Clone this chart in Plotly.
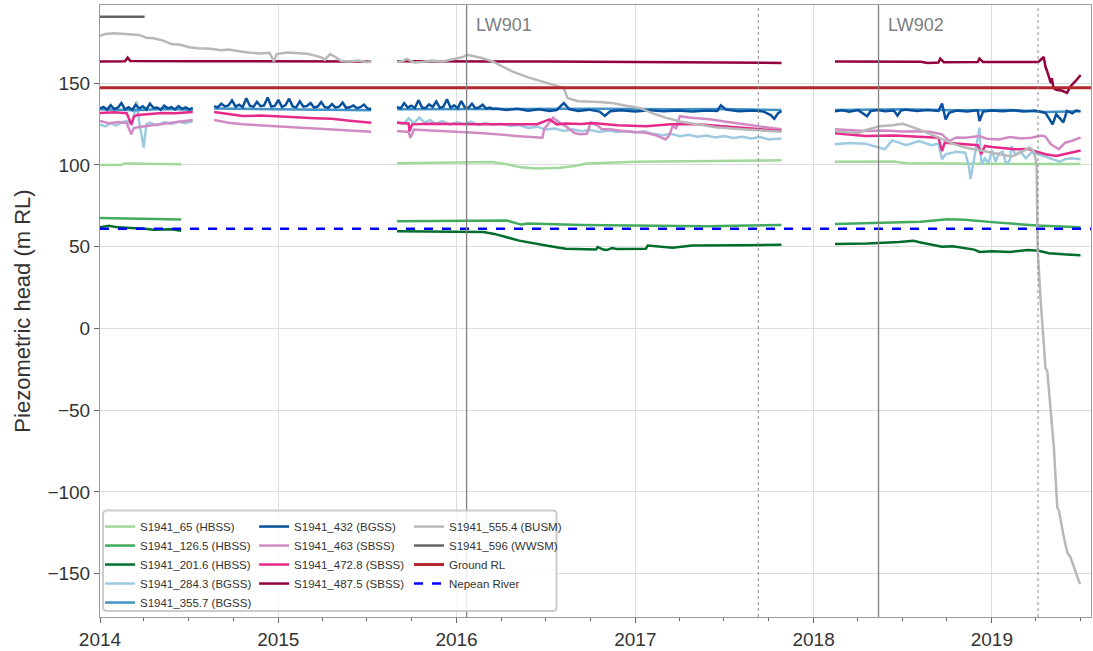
import pandas as pd
import plotly.graph_objects as go

# ---------------- data (decimal year, value) ; None = data gap ----------------
X_START, X_END = 2014.0, 2019.555
Y_RANGE = [-176.5, 197.8]
LW_YEARS = [2016.055, 2018.364]
LW_LABELS = ["LW901", "LW902"]
DOTTED_YEARS = [2017.69, 2019.258]
GROUND_RL = 147.2
NEPEAN_RIVER = 61.0

s65 = [(2014.00, 100.0), (2014.12, 100.1), (2014.14, 100.9), (2014.30, 100.6), (2014.455, 100.4), None,
       (2015.665, 101.0), (2015.9, 101.4), (2016.1, 102.0), (2016.2, 101.8), (2016.28, 100.4), (2016.36, 98.5),
       (2016.45, 97.8), (2016.58, 98.3), (2016.66, 99.3), (2016.73, 100.8), (2017.0, 101.9), (2017.3, 102.2),
       (2017.6, 102.6), (2017.82, 102.8), None,
       (2018.12, 102.0), (2018.45, 102.1), (2018.52, 101.0), (2018.8, 100.7), (2019.2, 100.5), (2019.496, 100.6)]

s126_5 = [(2014.00, 67.5), (2014.2, 67.2), (2014.455, 66.6), None,
          (2015.665, 65.6), (2016.1, 66.2), (2016.28, 66.0), (2016.36, 63.5), (2016.40, 64.2), (2016.7, 63.3),
          (2017.0, 62.9), (2017.4, 62.5), (2017.82, 63.3), None,
          (2018.12, 63.9), (2018.4, 64.6), (2018.6, 65.2), (2018.75, 66.8), (2018.85, 66.5), (2019.0, 65.0),
          (2019.25, 63.0), (2019.496, 61.9)]

s201_6 = [(2014.00, 61.9), (2014.05, 62.8), (2014.10, 61.8), (2014.15, 61.6), (2014.20, 61.5), (2014.25, 61.0),
          (2014.30, 60.3), (2014.35, 60.6), (2014.40, 60.7), (2014.455, 59.8), None,
          (2015.665, 59.5), (2016.0, 59.2), (2016.15, 59.0), (2016.21, 57.8), (2016.35, 53.7), (2016.5, 50.7),
          (2016.61, 48.7), (2016.78, 48.3), (2016.79, 49.8), (2016.82, 48.2), (2016.84, 47.9), (2016.87, 49.2),
          (2016.9, 48.5), (2017.06, 48.7), (2017.07, 50.7), (2017.21, 49.3), (2017.32, 50.7), (2017.6, 50.9),
          (2017.82, 51.1), None,
          (2018.12, 51.7), (2018.3, 52.0), (2018.48, 52.8), (2018.56, 53.6), (2018.6, 52.6), (2018.68, 51.0),
          (2018.72, 49.9), (2018.78, 50.3), (2018.85, 49.3), (2018.9, 48.2), (2018.93, 46.8), (2019.0, 47.2),
          (2019.1, 46.8), (2019.2, 47.9), (2019.26, 47.5), (2019.32, 46.0), (2019.4, 45.3), (2019.496, 44.7)]

s284_3 = [(2014.00, 124.8), (2014.03, 123.5), (2014.06, 125.5), (2014.09, 124.0), (2014.12, 126.0),
          (2014.15, 127.0), (2014.18, 124.5), (2014.205, 139.0), (2014.22, 126.0), (2014.245, 110.6),
          (2014.26, 124.8), (2014.28, 125.8), (2014.32, 124.2), (2014.36, 126.2), (2014.40, 125.0),
          (2014.44, 126.5), (2014.48, 125.5), (2014.52, 126.8), None,
          (2015.665, 126.5), (2015.70, 125.0), (2015.73, 128.5), (2015.76, 125.5), (2015.79, 129.0),
          (2015.82, 125.8), (2015.85, 127.5), (2015.88, 125.0), (2015.92, 126.8), (2015.96, 124.6),
          (2016.0, 126.2), (2016.04, 125.0), (2016.08, 126.5), (2016.12, 124.4), (2016.16, 125.6),
          (2016.2, 124.6), (2016.25, 125.2), (2016.3, 123.8), (2016.35, 124.4), (2016.4, 122.6),
          (2016.45, 123.4), (2016.5, 121.6), (2016.55, 122.2), (2016.6, 120.8), (2016.65, 121.8),
          (2016.7, 120.6), (2016.75, 121.4), (2016.8, 120.2), (2016.85, 121.0), (2016.9, 120.2),
          (2016.95, 120.8), (2017.0, 119.8), (2017.05, 120.6), (2017.1, 119.0), (2017.15, 118.2),
          (2017.2, 119.0), (2017.25, 117.6), (2017.3, 118.4), (2017.35, 117.2), (2017.4, 118.0),
          (2017.45, 116.8), (2017.5, 117.6), (2017.55, 116.4), (2017.6, 117.2), (2017.65, 116.2),
          (2017.7, 117.0), (2017.75, 115.6), (2017.82, 116.2), None,
          (2018.12, 112.6), (2018.2, 113.4), (2018.29, 113.0), (2018.40, 109.6), (2018.44, 115.0),
          (2018.52, 112.0), (2018.59, 114.6), (2018.66, 112.0), (2018.70, 113.0), (2018.72, 103.5),
          (2018.74, 106.5), (2018.80, 108.0), (2018.85, 107.5), (2018.87, 99.4), (2018.88, 91.3),
          (2018.90, 103.0), (2018.93, 122.8), (2018.94, 100.4), (2018.96, 104.0), (2018.98, 101.0),
          (2019.0, 109.0), (2019.02, 102.0), (2019.04, 107.0), (2019.06, 108.0), (2019.08, 100.4),
          (2019.10, 103.0), (2019.11, 111.6), (2019.13, 106.5), (2019.16, 108.0), (2019.19, 104.0),
          (2019.22, 107.5), (2019.26, 106.5), (2019.30, 105.0), (2019.34, 103.5), (2019.38, 102.0),
          (2019.41, 103.5), (2019.45, 104.0), (2019.497, 103.5)]

s355_7 = [(2014.00, 134.0), (2014.2, 133.5), (2014.35, 134.2), (2014.52, 133.8), None,
          (2014.64, 134.5), (2015.0, 134.2), (2015.3, 133.8), (2015.52, 133.5), None,
          (2015.665, 134.0), (2016.0, 134.2), (2016.5, 134.4), (2016.8, 134.3), (2017.2, 134.0),
          (2017.5, 134.2), (2017.82, 133.6), None,
          (2018.12, 133.6), (2018.5, 134.0), (2018.8, 133.4), (2019.1, 133.6), (2019.3, 132.4),
          (2019.496, 132.8)]

s432 = [(2014.00, 134.5), (2014.02, 135.5), (2014.04, 133.8), (2014.06, 136.5), (2014.08, 134.2),
        (2014.10, 135.0), (2014.12, 137.8), (2014.14, 134.0), (2014.16, 135.2), (2014.18, 133.6),
        (2014.20, 136.8), (2014.22, 134.5), (2014.24, 135.8), (2014.26, 133.9), (2014.28, 137.5),
        (2014.30, 134.8), (2014.32, 135.1), (2014.34, 133.7), (2014.36, 136.2), (2014.38, 134.6),
        (2014.40, 135.4), (2014.42, 133.9), (2014.44, 136.0), (2014.46, 134.3), (2014.48, 135.2),
        (2014.50, 134.0), (2014.52, 134.8), None,
        (2014.64, 136.0), (2014.66, 135.2), (2014.68, 137.5), (2014.70, 135.8), (2014.72, 136.4),
        (2014.74, 139.5), (2014.76, 135.6), (2014.78, 136.8), (2014.80, 135.3), (2014.82, 140.8),
        (2014.84, 136.2), (2014.86, 135.5), (2014.88, 138.6), (2014.90, 135.9), (2014.92, 136.4),
        (2014.94, 141.2), (2014.96, 135.7), (2014.98, 136.1), (2015.00, 139.8), (2015.02, 135.4),
        (2015.04, 136.6), (2015.06, 140.5), (2015.08, 135.8), (2015.10, 135.2), (2015.12, 138.9),
        (2015.14, 135.6), (2015.16, 136.0), (2015.18, 137.8), (2015.20, 135.1), (2015.22, 135.7),
        (2015.24, 138.4), (2015.26, 135.3), (2015.28, 134.9), (2015.30, 137.2), (2015.32, 135.0),
        (2015.34, 135.6), (2015.36, 138.1), (2015.38, 134.8), (2015.40, 135.2), (2015.42, 136.4),
        (2015.44, 134.7), (2015.46, 135.3), (2015.48, 136.9), (2015.50, 134.5), (2015.52, 134.2), None,
        (2015.665, 135.5), (2015.685, 134.6), (2015.705, 137.8), (2015.725, 135.0), (2015.745, 136.2),
        (2015.765, 134.8), (2015.785, 139.6), (2015.805, 135.2), (2015.825, 134.7), (2015.845, 137.0),
        (2015.865, 135.4), (2015.885, 138.8), (2015.905, 134.9), (2015.925, 135.6), (2015.945, 140.2),
        (2015.965, 135.0), (2015.985, 136.4), (2016.005, 134.6), (2016.025, 139.0), (2016.045, 135.2),
        (2016.065, 134.8), (2016.085, 137.4), (2016.105, 134.6), (2016.125, 135.2), (2016.145, 136.8),
        (2016.165, 134.4), (2016.185, 135.0), (2016.205, 134.2),
        (2016.22, 134.5), (2016.28, 133.6), (2016.34, 134.4), (2016.40, 133.2), (2016.46, 134.0),
        (2016.52, 133.0), (2016.56, 133.6), (2016.60, 137.8), (2016.63, 134.2), (2016.68, 133.0),
        (2016.74, 133.8), (2016.80, 132.6), (2016.83, 130.0), (2016.86, 132.8), (2016.92, 133.4),
        (2017.0, 132.6), (2017.08, 133.4), (2017.16, 132.8), (2017.24, 133.2), (2017.32, 132.6),
        (2017.40, 133.2), (2017.46, 133.0), (2017.48, 136.4), (2017.51, 133.8), (2017.58, 132.8),
        (2017.66, 133.2), (2017.72, 132.6), (2017.76, 130.5), (2017.78, 128.2), (2017.80, 131.5),
        (2017.82, 133.0), None,
        (2018.12, 132.8), (2018.16, 133.4), (2018.20, 132.6), (2018.25, 133.5), (2018.30, 129.8),
        (2018.32, 133.0), (2018.36, 133.6), (2018.40, 132.8), (2018.45, 133.2), (2018.47, 130.2),
        (2018.49, 133.2), (2018.52, 133.8), (2018.58, 133.0), (2018.64, 133.6), (2018.70, 133.0),
        (2018.72, 137.6), (2018.74, 127.8), (2018.76, 131.8), (2018.80, 133.2), (2018.86, 132.6),
        (2018.92, 133.4), (2018.93, 126.8), (2018.95, 132.6), (2019.0, 133.2), (2019.06, 132.8),
        (2019.12, 133.4), (2019.18, 132.6), (2019.24, 133.2), (2019.30, 131.8), (2019.34, 124.8),
        (2019.36, 131.0), (2019.40, 126.0), (2019.42, 133.0), (2019.45, 131.5), (2019.47, 133.2),
        (2019.496, 132.8)]

s463 = [(2014.00, 126.8), (2014.05, 125.5), (2014.10, 126.2), (2014.15, 125.6), (2014.175, 118.7),
        (2014.19, 122.5), (2014.22, 123.2), (2014.28, 124.0), (2014.35, 125.2), (2014.42, 126.0),
        (2014.48, 126.6), (2014.52, 127.5), None,
        (2014.64, 127.5), (2014.72, 125.8), (2014.80, 124.8), (2014.90, 124.2), (2015.0, 123.2),
        (2015.1, 122.8), (2015.2, 122.0), (2015.3, 121.7), (2015.4, 121.0), (2015.52, 120.3), None,
        (2015.665, 120.8), (2015.73, 120.2), (2015.74, 116.6), (2015.76, 121.6), (2015.85, 121.0),
        (2015.94, 120.7), (2016.05, 120.0), (2016.15, 119.4), (2016.22, 118.7), (2016.35, 117.6),
        (2016.48, 116.6), (2016.49, 122.0), (2016.54, 128.8), (2016.58, 125.5), (2016.61, 123.7),
        (2016.66, 119.5), (2016.69, 118.7), (2016.73, 119.0), (2016.75, 125.8), (2016.79, 124.0),
        (2016.81, 122.0), (2016.87, 121.7), (2016.95, 120.5), (2017.06, 119.7), (2017.12, 118.0),
        (2017.17, 115.6), (2017.19, 118.0), (2017.21, 123.7), (2017.23, 122.5), (2017.25, 129.8),
        (2017.30, 129.0), (2017.36, 128.4), (2017.43, 127.8), (2017.5, 126.5), (2017.62, 124.8),
        (2017.72, 123.0), (2017.82, 121.8), None,
        (2018.12, 121.8), (2018.2, 121.2), (2018.29, 120.7), (2018.4, 121.0), (2018.5, 120.4),
        (2018.6, 120.6), (2018.66, 120.1), (2018.72, 118.7), (2018.76, 114.6), (2018.80, 116.8),
        (2018.85, 116.6), (2018.93, 117.6), (2018.97, 116.0), (2019.04, 115.6), (2019.1, 117.0),
        (2019.16, 116.2), (2019.22, 116.6), (2019.28, 118.0), (2019.30, 117.2), (2019.33, 112.6),
        (2019.375, 109.6), (2019.41, 113.6), (2019.45, 114.8), (2019.497, 116.8)]

s472_8 = [(2014.00, 131.8), (2014.08, 132.2), (2014.15, 131.6), (2014.165, 128.0), (2014.175, 124.8),
          (2014.19, 129.5), (2014.21, 130.6), (2014.28, 131.2), (2014.35, 131.8), (2014.42, 131.6),
          (2014.52, 132.4), None,
          (2014.64, 132.3), (2014.72, 131.0), (2014.80, 129.9), (2014.9, 130.2), (2015.0, 129.5),
          (2015.1, 129.2), (2015.2, 128.6), (2015.3, 128.2), (2015.4, 127.0), (2015.52, 125.8), None,
          (2015.665, 125.8), (2015.73, 125.4), (2015.735, 120.7), (2015.75, 124.8), (2015.85, 125.2),
          (2015.95, 124.9), (2016.1, 124.8), (2016.25, 124.8), (2016.45, 124.9), (2016.52, 127.8),
          (2016.56, 124.8), (2016.61, 125.3), (2016.7, 125.0), (2016.76, 125.7), (2016.9, 124.2),
          (2017.06, 123.7), (2017.2, 124.8), (2017.35, 124.8), (2017.5, 123.6), (2017.62, 122.7),
          (2017.82, 120.8), None,
          (2018.12, 119.3), (2018.29, 117.7), (2018.45, 118.0), (2018.55, 117.6), (2018.70, 116.6),
          (2018.72, 108.5), (2018.735, 113.6), (2018.85, 112.6), (2018.92, 112.0), (2018.94, 106.5),
          (2018.96, 111.6), (2019.0, 111.0), (2019.13, 109.6), (2019.2, 109.8), (2019.30, 106.5),
          (2019.36, 105.5), (2019.42, 106.8), (2019.497, 108.8)]

s487_5 = [(2014.00, 163.3), (2014.14, 163.4), (2014.155, 165.6), (2014.17, 163.6), (2014.5, 163.4),
          (2014.9, 163.5), (2015.2, 163.2), (2015.52, 163.3), None,
          (2015.665, 163.4), (2016.0, 163.5), (2016.5, 163.2), (2017.0, 163.0), (2017.3, 162.8),
          (2017.6, 162.6), (2017.82, 162.4), None,
          (2018.12, 163.2), (2018.6, 163.1), (2018.64, 162.4), (2018.70, 162.6), (2018.71, 165.0),
          (2018.73, 162.8), (2018.92, 162.9), (2018.93, 165.0), (2018.95, 162.9), (2019.26, 163.0),
          (2019.29, 166.0), (2019.30, 160.0), (2019.31, 157.0), (2019.33, 150.0), (2019.335, 153.0),
          (2019.345, 147.0), (2019.36, 146.0), (2019.39, 145.5), (2019.42, 144.0), (2019.44, 148.0),
          (2019.47, 151.5), (2019.497, 155.0)]

s555_4 = [(2014.00, 179.0), (2014.03, 180.0), (2014.08, 180.5), (2014.15, 180.0), (2014.22, 179.5),
          (2014.26, 177.8), (2014.30, 177.5), (2014.35, 176.2), (2014.40, 174.0), (2014.45, 173.5),
          (2014.50, 172.0), (2014.55, 171.4), (2014.62, 171.0), (2014.68, 170.2), (2014.72, 170.6),
          (2014.78, 169.5), (2014.84, 168.6), (2014.90, 168.2), (2014.95, 168.6), (2014.975, 163.3),
          (2014.99, 167.8), (2015.05, 168.8), (2015.10, 168.4), (2015.16, 168.0), (2015.20, 167.0),
          (2015.24, 165.8), (2015.26, 164.3), (2015.29, 167.8), (2015.32, 166.0), (2015.35, 163.7),
          (2015.40, 163.2), (2015.45, 163.8), (2015.50, 162.8), (2015.52, 163.4), None,
          (2015.665, 163.0), (2015.70, 163.6), (2015.72, 164.8), (2015.76, 162.7), (2015.80, 163.0),
          (2015.86, 163.8), (2015.92, 163.3), (2015.97, 164.5), (2016.03, 165.8), (2016.06, 167.4),
          (2016.10, 166.5), (2016.14, 165.4), (2016.20, 163.3), (2016.31, 157.2), (2016.40, 153.5),
          (2016.50, 150.2), (2016.55, 149.0), (2016.60, 147.1), (2016.62, 141.0), (2016.68, 139.0),
          (2016.80, 138.5), (2016.87, 137.8), (2016.95, 136.2), (2017.02, 135.0), (2017.10, 131.5),
          (2017.17, 128.9), (2017.25, 126.5), (2017.34, 124.8), (2017.45, 123.0), (2017.62, 121.7),
          (2017.72, 121.0), (2017.82, 120.3), None,
          (2018.12, 120.7), (2018.18, 120.0), (2018.255, 119.7), (2018.30, 121.5), (2018.37, 123.7),
          (2018.44, 124.2), (2018.50, 125.2), (2018.55, 123.5), (2018.59, 121.7), (2018.65, 119.0),
          (2018.72, 115.6), (2018.78, 113.0), (2018.85, 110.6), (2018.95, 108.5), (2019.04, 106.5),
          (2019.11, 105.1), (2019.16, 107.5), (2019.21, 110.6), (2019.235, 108.5), (2019.25, 100.0),
          (2019.256, 48.7), (2019.272, 18.3), (2019.30, -24.3), (2019.31, -26.2), (2019.328, -48.7),
          (2019.347, -73.0), (2019.366, -109.6), (2019.375, -111.4), (2019.403, -127.8),
          (2019.422, -137.0), (2019.44, -140.0), (2019.493, -156.4)]

s596 = [(2014.00, 190.6), (2014.12, 190.6), (2014.25, 190.6)]

SERIES = [
    ("S1941_65 (HBSS)", s65, "#a1d99b", "legend"),
    ("S1941_126.5 (HBSS)", s126_5, "#41ab5d", "legend"),
    ("S1941_201.6 (HBSS)", s201_6, "#006d2c", "legend"),
    ("S1941_284.3 (BGSS)", s284_3, "#9ecae1", "legend"),
    ("S1941_355.7 (BGSS)", s355_7, "#4292c6", "legend"),
    ("S1941_432 (BGSS)", s432, "#08519c", "legend2"),
    ("S1941_463 (SBSS)", s463, "#d08bc4", "legend2"),
    ("S1941_472.8 (SBSS)", s472_8, "#e7298a", "legend2"),
    ("S1941_487.5 (SBSS)", s487_5, "#91003f", "legend2"),
    ("S1941_555.4 (BUSM)", s555_4, "#b8b8b8", "legend3"),
    ("S1941_596 (WWSM)", s596, "#636363", "legend3"),
]


def to_date(t):
    ts = pd.Timestamp("2014-01-01") + pd.to_timedelta((t - 2014.0) * 365.25, unit="D")
    return ts.strftime("%Y-%m-%d %H:%M")


def unzip(pairs):
    xs, ys = [], []
    for p in pairs:
        if p is None:
            xs.append(None)
            ys.append(None)
        else:
            xs.append(to_date(p[0]))
            ys.append(p[1])
    return xs, ys


fig = go.Figure()
for name, pairs, color, leg in SERIES:
    xs, ys = unzip(pairs)
    fig.add_trace(go.Scatter(x=xs, y=ys, mode="lines", name=name, legend=leg,
                             line=dict(color=color, width=2.5), connectgaps=False))

fig.add_trace(go.Scatter(x=[to_date(X_START), to_date(X_END)], y=[GROUND_RL, GROUND_RL], mode="lines",
                         name="Ground RL", legend="legend3", line=dict(color="#b2282c", width=3)))
fig.add_trace(go.Scatter(x=[to_date(X_START), to_date(X_END)], y=[NEPEAN_RIVER, NEPEAN_RIVER], mode="lines",
                         name="Nepean River", legend="legend3",
                         line=dict(color="#0000ff", width=2.5, dash="dash")))

shapes = []
for t in LW_YEARS:
    shapes.append(dict(type="line", xref="x", yref="paper", x0=to_date(t), x1=to_date(t), y0=0, y1=1,
                       line=dict(color="#808080", width=1.3), layer="above"))
for t in DOTTED_YEARS:
    shapes.append(dict(type="line", xref="x", yref="paper", x0=to_date(t), x1=to_date(t), y0=0, y1=1,
                       line=dict(color="#8c8c8c", width=1, dash="dot"), layer="above"))

# legend frame (rounded rectangle, paper coordinates)
bx0, bx1, by0, by1 = 0.003, 0.4607, 0.0098, 0.1740
rx, ry = 4 / 992, 4 / 615
path = (f"M {bx0+rx},{by1} L {bx1-rx},{by1} Q {bx1},{by1} {bx1},{by1-ry} L {bx1},{by0+ry} "
        f"Q {bx1},{by0} {bx1-rx},{by0} L {bx0+rx},{by0} Q {bx0},{by0} {bx0},{by0+ry} "
        f"L {bx0},{by1-ry} Q {bx0},{by1} {bx0+rx},{by1} Z")
shapes.append(dict(type="path", xref="paper", yref="paper", path=path,
                   line=dict(color="#cccccc", width=2), fillcolor="rgba(255,255,255,0.85)", layer="above"))

annotations = []
for t, lab in zip(LW_YEARS, LW_LABELS):
    annotations.append(dict(x=to_date(t), y=0.9675, xref="x", yref="paper", text=lab, showarrow=False,
                            xanchor="left", yanchor="middle", xshift=7,
                            font=dict(size=18, color="#808080")))

axis_common = dict(showline=True, linecolor="#9a9a9a", linewidth=1, mirror=True,
                   ticks="outside", ticklen=5, tickcolor="#666666", tickwidth=1,
                   showgrid=True, gridcolor="#dddddd", gridwidth=1, zeroline=False,
                   tickfont=dict(size=19, color="#333333"))

leg_common = dict(yanchor="top", xanchor="left", y=0.1715, bgcolor="rgba(0,0,0,0)", borderwidth=0,
                  font=dict(size=11.5, color="#333333"), orientation="v", tracegroupgap=0)

fig.update_layout(
    width=1093, height=651,
    margin=dict(l=100, r=1, t=5, b=31),
    plot_bgcolor="white", paper_bgcolor="white",
    font=dict(family="Liberation Sans, Arial, sans-serif", color="#333333"),
    xaxis=dict(type="date", range=[to_date(X_START), to_date(X_END)], tickformat="%Y", dtick="M12",
               tick0="2014-01-01",
               minor=dict(dtick="M3", ticks="outside", ticklen=3, tickcolor="#666666", showgrid=False),
               **axis_common),
    yaxis=dict(range=Y_RANGE, dtick=50, tick0=0,
               title=dict(text="Piezometric head (m RL)", font=dict(size=22, color="#333333"), standoff=10),
               **axis_common),
    legend=dict(x=0.0, **leg_common),
    legend2=dict(x=0.1555, **leg_common),
    legend3=dict(x=0.3118, **leg_common),
    shapes=shapes,
    annotations=annotations,
    showlegend=True,
)

fig.write_html("out.html", config={"displayModeBar": False},
               post_script="document.body.style.margin='0';document.body.style.padding='0';")
